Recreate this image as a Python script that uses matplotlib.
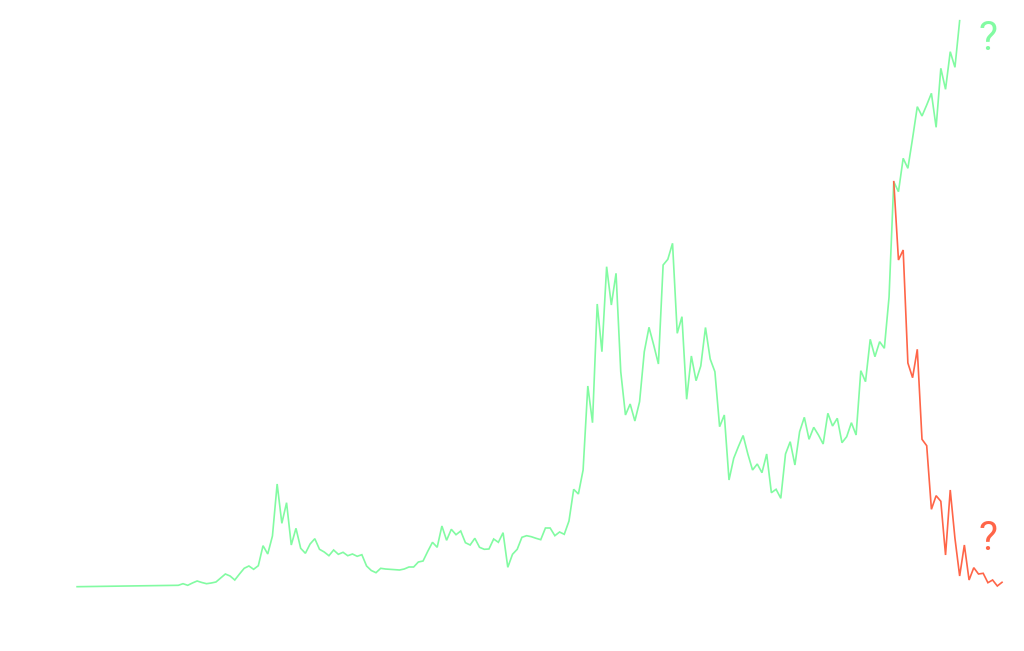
import matplotlib
matplotlib.use("Agg")
import matplotlib.pyplot as plt
import numpy as np

# weekly values (arbitrary units)
first_week = -21.5
first_value = 0.3

green_values = [
    1.7, 3.3, 1.7, 4.0, 6.0, 4.5, 3.3, 4.0, 5.0, 9.0,
    13.0, 11.0, 7.0, 13.0, 18.7, 21.0, 17.7, 21.3, 41.3, 33.0,
    51.0, 103.0, 63.7, 84.3, 42.0, 58.7, 38.7, 33.7, 43.0, 48.3,
    37.7, 35.0, 31.3, 37.0, 32.7, 34.7, 31.3, 33.0, 30.7, 32.3,
    21.0, 16.5, 14.3, 18.7, 18.0, 17.7, 17.3, 17.0, 18.0, 20.0,
    20.0, 25.0, 26.0, 35.7, 44.7, 39.7, 61.0, 46.7, 57.7, 52.3,
    56.0, 44.3, 42.0, 48.7, 39.7, 37.7, 38.0, 48.0, 44.7, 54.3,
    19.7, 32.7, 37.7, 49.7, 51.3, 50.3, 48.7, 47.3, 59.0, 59.0,
    51.3, 55.0, 52.7, 66.0, 97.7, 93.0, 117.0, 201.0, 164.3, 283.0,
    235.3, 320.3, 282.0, 313.7, 215.3, 172.0, 183.0, 166.0, 185.3, 235.3,
    259.7, 242.0, 223.0, 322.0, 327.7, 343.7, 253.7, 270.3, 187.7, 231.0,
    206.3, 221.0, 259.5, 228.0, 215.3, 160.3, 172.0, 107.0, 128.7, 140.5,
    151.5, 133.0, 117.0, 123.0, 114.3, 133.0, 94.3, 97.7, 88.7, 133.0,
    145.3, 122.0, 155.3, 169.7, 147.7, 159.7, 152.0, 143.0, 173.7, 161.0,
    168.7, 144.3, 150.3, 164.3, 152.0, 216.3, 205.3, 247.7, 230.3, 245.3,
    238.7, 290.0, 405.3, 395.3, 428.7, 418.7, 448.7, 480.3, 471.0, 482.0,
    493.7, 459.7, 518.7, 497.7, 535.3, 519.7, 566.3,
]

red_values = [
    405.3, 327.0, 337.0, 224.0, 209.3, 237.7, 147.7, 141.3, 77.7, 91.3,
    85.7, 32.0, 97.0, 48.7, 11.0, 42.0, 7.0, 19.3, 13.0, 13.7,
    4.3, 7.0, 1.0, 4.7,
]

green_color = "#82fba2"
red_color = "#ff6548"

green_weeks = [first_week] + list(range(len(green_values)))
green_all = [first_value] + green_values
red_start = len(green_values) - 15
red_weeks = list(range(red_start, red_start + len(red_values)))

fig = plt.figure(figsize=(10.24, 6.51), dpi=100)
ax = fig.add_axes([0, 0, 1, 1])
ax.axis("off")

ax.plot(green_weeks, green_all, color=green_color, lw=1.2, solid_joinstyle="miter")
ax.plot(red_weeks, red_values, color=red_color, lw=1.2, solid_joinstyle="miter")

ax.set_xlim(-37.88, 179.67)
ax.set_ylim(-64, 587)

ax.text(172.1, 548, "?", color=green_color, fontsize=29, family="Roboto",
        ha="center", va="center")
ax.text(172.1, 49, "?", color=red_color, fontsize=29, family="Roboto",
        ha="center", va="center")

fig.savefig("out.png", dpi=100)
